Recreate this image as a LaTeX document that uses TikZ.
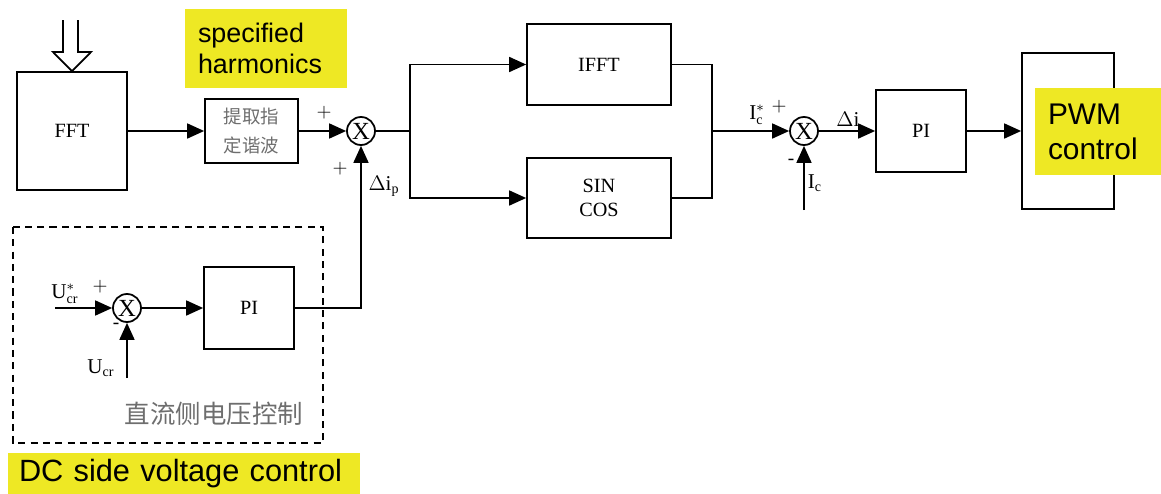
\documentclass[tikz,border=0pt]{standalone}
\usepackage{fontspec}
\usepackage{amsmath}
\setmainfont{Liberation Serif}
\newfontfamily\labelfont{Liberation Sans}
\newfontfamily\cjk{Noto Sans CJK SC}
\usetikzlibrary{arrows.meta}
\definecolor{hiyellow}{RGB}{238,232,36}
\definecolor{cjkgray}{RGB}{110,110,110}

\begin{document}
\begin{tikzpicture}[x=0.02cm, y=-0.02cm, line width=1pt,
		>={Triangle[length=0.34cm, width=0.3cm]},
		blk/.style={draw, rectangle, font=\fontsize{11.5}{14}\selectfont, align=center, inner sep=0pt},
		sumnode/.style={draw, circle, minimum size=0.56cm, inner sep=0pt, font=\fontsize{14}{14}\selectfont},
		sgn/.style={font=\fontsize{11}{11}\selectfont, inner sep=0pt},
		sig/.style={font=\fontsize{12}{12}\selectfont, inner sep=0pt},
		note/.style={fill=hiyellow, inner ysep=0pt, inner xsep=0.26cm, align=left, text=black}]
	\useasboundingbox (0,0) rectangle (1161,494);

	\node[blk, minimum width=2.2cm, minimum height=2.36cm] (FFT)at(72, 131) {FFT};
	\node[blk, minimum width=1.86cm, minimum height=1.28cm, text=cjkgray, font=\cjk\fontsize{10.5}{17}\selectfont] (EXT)at(251.5, 131) {提取指\\定谐波};
	\node[sumnode] (S1)at(361, 131) {X};
	\node[blk, minimum width=2.88cm, minimum height=1.62cm] (IFFT)at(599, 64.5) {IFFT};
	\node[blk, minimum width=2.88cm, minimum height=1.6cm] (SC)at(599, 198) {SIN\\COS};
	\node[sumnode] (S2)at(804, 131) {X};
	\node[blk, minimum width=1.8cm, minimum height=1.64cm] (PIa)at(921, 131) {PI};
	\node[blk, minimum width=1.84cm, minimum height=3.12cm] (PWM)at(1068, 131) {};
	\node[sumnode] (S3)at(127, 308) {X};
	\node[blk, minimum width=1.8cm, minimum height=1.64cm] (PIb)at(249, 308) {PI};

	\coordinate (J1) at (410, 131);
	\coordinate (J2) at (712, 131);
	\coordinate (Icin) at (804, 210);
	\coordinate (Urefin) at (55, 308);
	\coordinate (Ucrin) at (127, 378);

	\draw (63,20) -- (63,52) -- (53,52) -- (FFT.north) -- (91,52) -- (78,52) -- (78,20);
	\draw[->] (FFT) -- (EXT);
	\draw[->] (EXT) -- (S1);
	\draw (S1) -- (J1);
	\draw[->] (J1) |- (IFFT.west);
	\draw[->] (J1) |- (SC.west);
	\draw (IFFT.east) -| (J2);
	\draw (SC.east) -| (J2);
	\draw[->] (J2) -- (S2);
	\draw[->] (S2) -- (PIa);
	\draw[->] (PIa) -- (PWM);
	\draw[->] (Icin) -- (S2);
	\draw[->] (Urefin) -- (S3);
	\draw[->] (Ucrin) -- (S3);
	\draw[->] (S3) -- (PIb);
	\draw[->] (PIb.east) -| (S1.south);

	\node[sgn] (P1)at(324, 113) {$+$};
	\node[sgn] (P2)at(340, 169) {$+$};
	\node[sig] (DIP)at(384, 186) {$\Delta\mathrm{i}_{\mathrm{p}}$};
	\node[sig] (ICS)at(757, 115) {$\mathrm{I}^{*}_{\mathrm{c}}$};
	\node[sgn] (P3)at(779, 107) {$+$};
	\node[sgn] (M1)at(791, 162) {-};
	\node[sig] (IC)at(815, 183) {$\mathrm{I}_{\mathrm{c}}$};
	\node[sig] (DI)at(848, 119) {$\Delta\mathrm{i}$};
	\node[sig] (URS)at(65, 294) {$\mathrm{U}^{*}_{\mathrm{cr}}$};
	\node[sgn] (P4)at(100, 287) {$+$};
	\node[sgn] (M2)at(116, 326) {-};
	\node[sig] (UCR)at(101, 368) {$\mathrm{U}_{\mathrm{cr}}$};

	\draw[dash pattern=on 4pt off 3pt] (13,227) rectangle (323,443);
	\node[text=cjkgray, font=\cjk\fontsize{14.5}{16}\selectfont, inner sep=0pt] (DCCN)at(214, 414) {直流侧电压控制};

	\node[note, minimum height=1.58cm, text width=2.72cm, font=\labelfont\fontsize{15.3}{17.5}\selectfont] (SH)at(266, 48.5) {specified\\harmonics};
	\node[note, minimum height=1.74cm, text width=2.0cm, font=\labelfont\fontsize{17}{19.8}\selectfont] (PWMC)at(1098, 131.5) {PWM\\control};
	\node[note, minimum height=0.82cm, text width=6.6cm, inner xsep=0.22cm, font=\labelfont\fontsize{17.5}{20}\selectfont] (DCEN)at(184, 473.5) {DC side voltage control};
\end{tikzpicture}
\end{document}
